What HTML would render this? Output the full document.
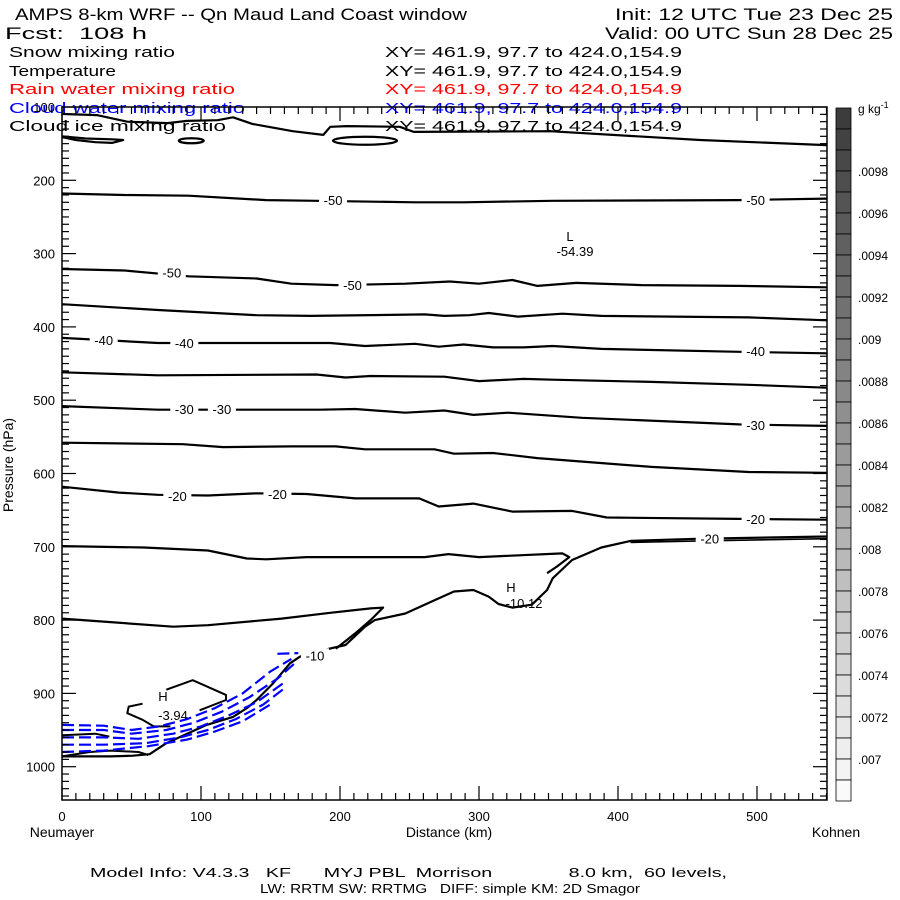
<!DOCTYPE html>
<html><head><meta charset="utf-8"><style>
html,body{margin:0;padding:0;background:#fff;}
svg{display:block;font-family:"Liberation Sans",sans-serif;}
text{white-space:pre;}
</style></head><body>
<svg id="chart" width="900" height="900" viewBox="0 0 900 900" xmlns="http://www.w3.org/2000/svg" xml:space="preserve">
<rect width="900" height="900" fill="#fff"/>
<g font-size="17" fill="#000">
<text x="15" y="20" textLength="452" lengthAdjust="spacingAndGlyphs">AMPS 8-km WRF -- Qn Maud Land Coast window</text>
<text x="615" y="20" textLength="278" lengthAdjust="spacingAndGlyphs">Init: 12 UTC Tue 23 Dec 25</text>
<text x="5" y="39" textLength="142" lengthAdjust="spacingAndGlyphs">Fcst:  108 h</text>
<text x="605" y="39" textLength="288" lengthAdjust="spacingAndGlyphs">Valid: 00 UTC Sun 28 Dec 25</text>
</g>
<g font-size="15">
<text x="9" y="57" textLength="166" lengthAdjust="spacingAndGlyphs">Snow mixing ratio</text>
<text x="385" y="57" textLength="297" lengthAdjust="spacingAndGlyphs">XY= 461.9, 97.7 to 424.0,154.9</text>
<text x="9" y="76" textLength="107" lengthAdjust="spacingAndGlyphs">Temperature</text>
<text x="385" y="76" textLength="297" lengthAdjust="spacingAndGlyphs">XY= 461.9, 97.7 to 424.0,154.9</text>
<text x="9" y="94" fill="#ff0000" textLength="226" lengthAdjust="spacingAndGlyphs">Rain water mixing ratio</text>
<text x="385" y="94" fill="#ff0000" textLength="297" lengthAdjust="spacingAndGlyphs">XY= 461.9, 97.7 to 424.0,154.9</text>
<text x="9" y="113" fill="#0000ff" textLength="236" lengthAdjust="spacingAndGlyphs">Cloud water mixing ratio</text>
<text x="385" y="113" fill="#0000ff" textLength="297" lengthAdjust="spacingAndGlyphs">XY= 461.9, 97.7 to 424.0,154.9</text>
<text x="9" y="131" textLength="217" lengthAdjust="spacingAndGlyphs">Cloud ice mixing ratio</text>
<text x="385" y="131" textLength="297" lengthAdjust="spacingAndGlyphs">XY= 461.9, 97.7 to 424.0,154.9</text>
</g>
<g id="plot"></g>
<g id="axes"></g>
<g id="cbar"></g>
<text x="13" y="465" font-size="14" text-anchor="middle" transform="rotate(-90 13 465)">Pressure (hPa)</text>
<text x="62" y="837" font-size="14" text-anchor="middle">Neumayer</text>
<text x="449" y="837" font-size="14" text-anchor="middle">Distance (km)</text>
<text x="836" y="837" font-size="14" text-anchor="middle">Kohnen</text>
<text x="90" y="877" font-size="13" textLength="637" lengthAdjust="spacingAndGlyphs">Model Info: V4.3.3   KF      MYJ PBL  Morrison              8.0 km,  60 levels,</text>
<text x="260" y="893" font-size="13" textLength="380" lengthAdjust="spacingAndGlyphs">LW: RRTM SW: RRTMG   DIFF: simple KM: 2D Smagor</text>
</svg>
<script>
// ---- data (km along section, pressure hPa) ----
const xTicks = [0,100,200,300,400,500];
const yTicks = [100,200,300,400,500,600,700,800,900,1000];
const cbarLabels = [".0098",".0096",".0094",".0092",".009",".0088",".0086",".0084",".0082",".008",".0078",".0076",".0074",".0072",".007"];

const tTopKm = [0,1,25,47,76,90,112,123,137,166,188,193,205,243,253,351,459,550];
const tTopP  = [109,109.5,111,120,122,119,118,114,123,133,138,127,126,127,134,133,145,152];
const t50aKm = [0,45,91,147,183,254,289,353,487,550];
const t50aP  = [218,220,221,227,228,230,230,228,227,225];
const t50bKm = [0,45,91,140,165,197,247,279,300,324,342,370,417,487,550];
const t50bP  = [321,323,331,334,341,343,341,338,341,336,344,340,343,344,346];
const t45Km = [0,69,140,179,261,275,293,307,328,360,388,494,550];
const t45P  = [369,377,384,385,383,385,384,381,386,382,385,387,391];
const t40Km = [0,69,193,218,254,271,289,310,332,353,388,487,550];
const t40P  = [415,422,422,426,423,427,424,428,428,426,430,434,436];
const t35Km = [0,69,183,204,222,275,300,332,353,424,494,550];
const t35P  = [462,466,465,469,467,468,474,471,472,475,479,483];
const t30Km = [0,69,186,211,247,275,296,321,374,487,550];
const t30P  = [508,513,513,512,517,514,520,517,524,533,535];
const t25Km = [0,87,116,165,197,218,268,282,310,324,342,424,494,550];
const t25P  = [558,560,564,563,563,567,567,573,572,575,579,591,598,599];
const t20Km = [0,41,69,105,140,176,211,257,271,296,324,367,392,487,550];
const t20P  = [618,626,629,630,627,628,634,634,645,641,652,651,660,662,663];
const t15Km = [0,59,105,133,147,176,261,278,300,360,365,356,349];
const t15P  = [699,701,705,716,717,714,714,710,714,709,714,727,736];
const t10Km = [0,80,105,158,193,222,231,222,211,197];
const t10P  = [798,809,807,798,790,784,783,800,818,839];
const sfcKm = [0,35,51,63,75,90,104,123,133,140,152,164,171,181,190,204,218,225,247,268,282,296,307,314,324,338,349,353,367,388,409,459,550];
const sfcP  = [986,986,985,983,968,955,943,932,920,909,886,859,850,843,840,834,809,800,791,773,761,759,768,778,783,779,759,743,718,701,692,689,686];
const sfc2Km = [409,459,550];
const sfc2P  = [694,692,689];
const hA_Km = [75,94,118,118,99];
const hA_P  = [895,882,902,909,923];
const hB_Km = [58,48,47,58,66,78];
const hB_P  = [914,918,927,936,945,945];
const lowKm = [0,24,34];
const lowP  = [957,955,959];
const low2Km = [0,20,35,55,62];
const low2P  = [986,980,978,980,984];
const loop1Km = [0,17,36,44,36,24,10,0];
const loop1P  = [140,143,144,145,149,148,145,141];

const cw0Km=[155,170], cw0P=[846,845];
const cw1Km=[0,30,50,70,90,110,130,150,165], cw1P=[943,944,950,945,935,920,900,870,853];
const cw2Km=[0,30,50,75,95,115,135,155,168], cw2P=[950,950,955,950,940,925,905,880,858];
const cw3Km=[0,30,55,80,100,120,140,160], cw3P=[960,960,962,955,945,930,912,885];
const cw4Km=[0,30,60,85,105,125,145,160], cw4P=[970,970,968,960,950,935,915,893];
const cw5Km=[0,30,62,90,110,130,150], cw5P=[980,978,972,963,952,938,915];

const labelText = ["-50","-50","-50","-50","-40","-40","-40","-30","-30","-30","-20","-20","-20","-20","-10"];
const labelKm = [195,499,79,209,30,88,499,88,115,499,83,155,499,466,182];
const labelP  = [227,227,326,343,418,422,433,512,512,534,631,628,662,689,848];

// ---- axes ----
const X = km => 62 + km*1.39;
const Y = p => 107 + (p-100)*0.733;
const NS="http://www.w3.org/2000/svg";
const plot=document.getElementById('plot'), axes=document.getElementById('axes'), cbar=document.getElementById('cbar');
function mk(tag, attrs, parent){const e=document.createElementNS(NS,tag);for(const k in attrs)e.setAttribute(k,attrs[k]);parent.appendChild(e);return e;}
function line(kms, ps, name, color, width, dash){
  const d=kms.map((k,i)=>(i?'L':'M')+X(k).toFixed(1)+','+Y(ps[i]).toFixed(1)).join(' ');
  const e=mk('path',{d:d,fill:'none',stroke:color,'stroke-width':width,'stroke-linejoin':'round'},plot);
  if(dash)e.setAttribute('stroke-dasharray',dash);
  
  
}
line(tTopKm,tTopP,'contour-tropopause','#000',2.2);
line(loop1Km,loop1P,'contour-loop-left','#000',2.2);
line(t50aKm,t50aP,'contour-minus50-upper','#000',2.2);
line(t50bKm,t50bP,'contour-minus50-lower','#000',2.2);
line(t45Km,t45P,'contour-minus45','#000',2.2);
line(t40Km,t40P,'contour-minus40','#000',2.2);
line(t35Km,t35P,'contour-minus35','#000',2.2);
line(t30Km,t30P,'contour-minus30','#000',2.2);
line(t25Km,t25P,'contour-minus25','#000',2.2);
line(t20Km,t20P,'contour-minus20','#000',2.2);
line(t15Km,t15P,'contour-minus15','#000',2.2);
line(t10Km,t10P,'contour-minus10','#000',2.2);
line(sfcKm,sfcP,'terrain-surface','#000',2.2);
line(sfc2Km,sfc2P,'terrain-surface-upper','#000',1.6);
line(hA_Km,hA_P,'contour-warm-core-a','#000',2);
line(hB_Km,hB_P,'contour-warm-core-b','#000',2);
line(lowKm,lowP,'contour-low-a','#000',2);
line(low2Km,low2P,'contour-low-b','#000',2);
[[84,102],[195,241]].forEach((r,i)=>{
  const cx=X((r[0]+r[1])/2), rx=(X(r[1])-X(r[0]))/2;
  const e=mk('ellipse',{cx:cx,cy:Y(146),rx:rx,ry:i?4:2.5,fill:'none',stroke:'#000','stroke-width':2.2},plot);
  
  
});
[[cw0Km,cw0P],[cw1Km,cw1P],[cw2Km,cw2P],[cw3Km,cw3P],[cw4Km,cw4P],[cw5Km,cw5P]].forEach(a=>line(a[0],a[1],'cloud-water-contour','#0000ff',2.2,'12,5'));
labelText.forEach((t,i)=>{
  const x=X(labelKm[i]), y=Y(labelP[i]);
  const r=mk('rect',{x:x-14,y:y-7,width:28,height:13,fill:'#fff'},plot);
  
  
  const e=mk('text',{x:x,y:y+5,'font-size':13,'text-anchor':'middle'},plot);
  e.textContent=t;
  
  
});
[['H',163,701],['-3.94',173,720],['H',511,592],['-10.12',524,608],['L',570,241],['-54.39',575,256]].forEach(a=>{
  const e=mk('text',{x:a[1],y:a[2],'font-size':13,'text-anchor':'middle'},plot);
  e.textContent=a[0];
  
  
});
// frame & ticks
const fr=mk('rect',{x:62,y:107,width:765,height:693,fill:'none',stroke:'#000','stroke-width':1.5},axes);


for(let k=0;k<=550;k+=10){
  const big=k%100===0, x=X(k);
  mk('line',{x1:x,y1:800,x2:x,y2:800-(big?14:7),stroke:'#000','stroke-width':1.2},axes);
  mk('line',{x1:x,y1:107,x2:x,y2:107+(big?14:7),stroke:'#000','stroke-width':1.2},axes);
}
for(let p=100;p<=1040;p+=10){
  const big=p%100===0, y=Y(p);
  mk('line',{x1:62,y1:y,x2:62+(big?14:7),y2:y,stroke:'#000','stroke-width':1.2},axes);
  mk('line',{x1:827,y1:y,x2:827-(big?14:7),y2:y,stroke:'#000','stroke-width':1.2},axes);
}
xTicks.forEach(k=>{
  const e=mk('text',{x:X(k),y:821,'font-size':13,'text-anchor':'middle'},axes);
  e.textContent=k;
  
  
});
yTicks.forEach(p=>{
  const e=mk('text',{x:55,y:Y(p)+5,'font-size':13,'text-anchor':'end'},axes);
  e.textContent=p;
  
  
});
// colorbar
for(let i=0;i<33;i++){
  const v=Math.round(0x3c+(0xfa-0x3c)*i/32);
  const c='rgb('+v+','+v+','+v+')';
  const r=mk('rect',{x:836,y:108+i*21,width:15,height:21,fill:c,stroke:'#000','stroke-width':0.8},cbar);
  
  
}
cbarLabels.forEach((t,i)=>{
  const e=mk('text',{x:858,y:171+i*42+5,'font-size':12},cbar);
  e.textContent=t;
  
  
});
const u=mk('text',{x:858,y:113,'font-size':12},cbar);
u.innerHTML='g kg<tspan dy="-5" font-size="9">-1</tspan>';


</script>
</body></html>
